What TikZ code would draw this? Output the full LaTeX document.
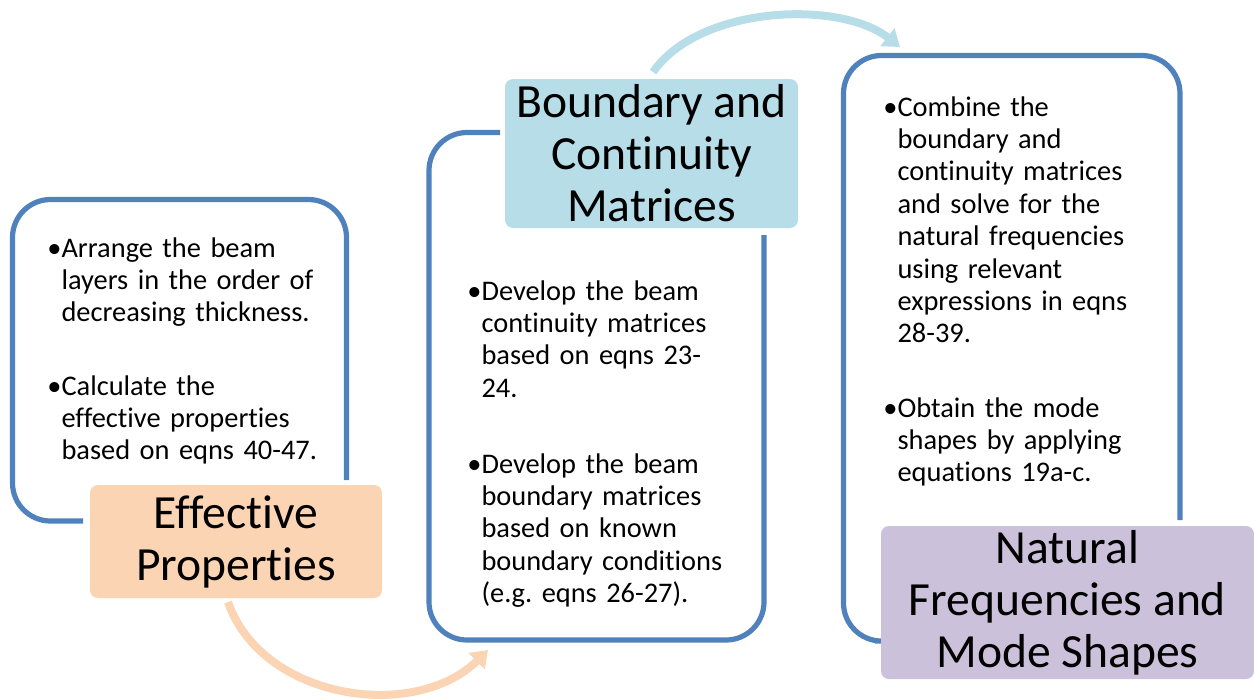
\documentclass[tikz,border=0pt]{standalone}
\usepackage{fontspec}
\setmainfont{Carlito}[Ligatures=NoCommon]
\usetikzlibrary{arrows.meta}
\frenchspacing
\definecolor{frameblue}{HTML}{4F81BD}
\definecolor{peach}{HTML}{FBD4B4}
\definecolor{skyblue}{HTML}{B7DEE8}
\definecolor{lilac}{HTML}{CCC1DA}
\tikzset{
  frame/.style={draw=frameblue, line width=2.6pt, rounded corners=19pt},
  label/.style={rounded corners=4pt, inner sep=0pt, align=center,
    font=\fontsize{23.8}{26}\selectfont},
  bullets/.style={anchor=base west, inner sep=0pt, align=left,
    text width=200pt, font=\fontsize{14.2}{16.2}\selectfont},
  flow/.style={line width=4pt, -{Triangle[width=11pt,length=8pt]}},
}
\newcommand{\hang}{\phantom{•}}
\begin{document}
\begin{tikzpicture}[x=0.5pt, y=-0.5pt]
\useasboundingbox (0,0) rectangle (1254,698);

% step 1: effective properties
\draw[frame] (83,521) -- (12.5,521) -- (12.5,199.5) -- (346.5,199.5) -- (346.5,480);
\node[bullets] (b1a) at (47,257) {•Arrange the beam\\\hang layers in the order of\\\hang decreasing thickness.};
\node[bullets] (b1b) at (47,395) {•Calculate the\\\hang effective properties\\\hang based on eqns 40-47.};
\node[label, fill=peach, minimum width=146pt, minimum height=56.5pt] (l1) at (236,541.5) {Effective\\Properties};

% step 2: boundary and continuity matrices
\draw[frame] (500,132.5) -- (429,132.5) -- (429,640) -- (764,640) -- (764,235);
\node[bullets] (b2a) at (467,300) {•Develop the beam\\\hang continuity matrices\\\hang based on eqns 23-\\\hang 24.};
\node[bullets] (b2b) at (467,473) {•Develop the beam\\\hang boundary matrices\\\hang based on known\\\hang boundary conditions\\\hang (e.g. eqns 26-27).};
\node[label, fill=skyblue, minimum width=146.5pt, minimum height=74.5pt] (l2) at (651.5,153.5) {Boundary and\\Continuity\\Matrices};

% step 3: natural frequencies and mode shapes
\draw[frame] (875,641) -- (843.5,641) -- (843.5,55.5) -- (1180,55.5) -- (1180,520);
\node[bullets] (b3a) at (883,116) {•Combine the\\\hang boundary and\\\hang continuity matrices\\\hang and solve for the\\\hang natural frequencies\\\hang using relevant\\\hang expressions in eqns\\\hang 28-39.};
\node[bullets] (b3b) at (883,417) {•Obtain the mode\\\hang shapes by applying\\\hang equations 19a-c.};
\node[label, fill=lilac, minimum width=186.5pt, minimum height=76.5pt] (l3) at (1067.5,602.5) {Natural\\Frequencies and\\Mode Shapes};

% flow arrows between the steps
\coordinate (e1) at (488,650);
\coordinate (e2) at (900,47);
\draw[flow, draw=peach] (228,602) .. controls (262,700) and (415,722) .. (e1);
\draw[flow, draw=skyblue] (653,72) .. controls (700,5) and (840,0) .. (e2);
\end{tikzpicture}
\end{document}
